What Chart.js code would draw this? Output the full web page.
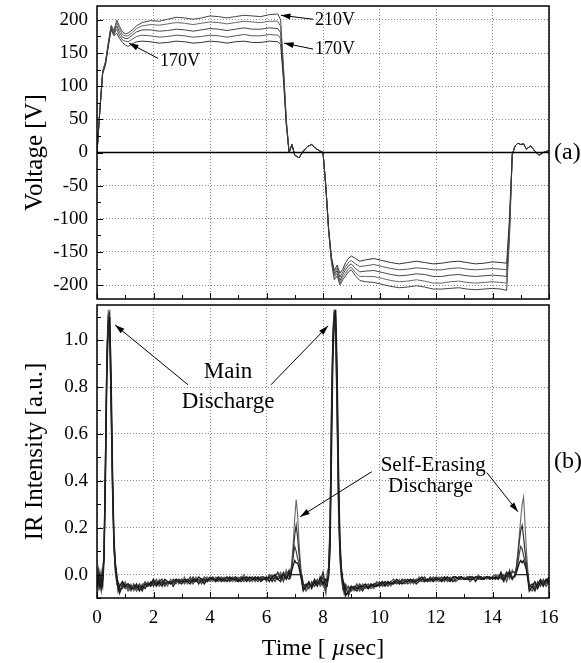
<!DOCTYPE html>
<html>
<head>
<meta charset="utf-8">
<script src="https://cdn.jsdelivr.net/npm/chart.js@4.4.1/dist/chart.umd.min.js"></script>
<style>
  html, body { margin: 0; padding: 0; background: #fff; }
  #wrap { position: relative; width: 581px; height: 663px; }
  #top { position: absolute; left: 0; top: 0; }
  #bot { position: absolute; left: 0; top: 299px; }
</style>
</head>
<body>
<div id="wrap">
  <canvas id="top" width="581" height="305"></canvas>
  <canvas id="bot" width="581" height="364"></canvas>
</div>
<script>
// ---- tick positions ----
const timeTicks = [0, 2, 4, 6, 8, 10, 12, 14, 16];
const timeMinor = [0, 1, 2, 3, 4, 5, 6, 7, 8, 9, 10, 11, 12, 13, 14, 15, 16];
const voltTicks = [-200, -150, -100, -50, 0, 50, 100, 150, 200];
const voltMinor = [-200, -175, -150, -125, -100, -75, -50, -25, 0, 25, 50, 75, 100, 125, 150, 175, 200];
const irTicks = [0, 0.2, 0.4, 0.6, 0.8, 1.0];
const irMinor = [-0.1, 0, 0.1, 0.2, 0.3, 0.4, 0.5, 0.6, 0.7, 0.8, 0.9, 1.0, 1.1];

// ---- (a) drive voltage, µs, one row per block of samples ----
const voltTime = [
  [0, 0.1, 0.2, 0.3, 0.4, 0.5, 0.6, 0.7, 0.8, 0.9],
  [1.0, 1.1, 1.25, 1.4, 1.6, 1.9, 2.2, 2.5, 2.8, 3.1],
  [3.4, 3.7, 4.0, 4.3, 4.6, 4.9, 5.2, 5.5, 5.8, 6.1],
  [6.4, 6.5, 6.6, 6.7, 6.8, 6.9, 7.0, 7.15, 7.3, 7.45],
  [7.6, 7.75, 7.9, 8.0, 8.1, 8.2, 8.3, 8.4, 8.5, 8.6],
  [8.7, 8.8, 8.9, 9.0, 9.15, 9.3, 9.5, 9.8, 10.1, 10.4],
  [10.7, 11.0, 11.3, 11.6, 11.9, 12.2, 12.5, 12.8, 13.1, 13.4],
  [13.7, 14.0, 14.3, 14.5, 14.6, 14.7, 14.8, 14.9, 15.0, 15.1],
  [15.2, 15.35, 15.5, 15.65, 15.8, 16.0]
];
const v170 = [
  [0, 62, 118, 132, 160, 185, 176, 180, 172, 166],
  [162, 160, 164, 167, 168, 167, 165, 166, 168, 167],
  [165, 166, 168, 167, 165, 167, 168, 166, 166, 168],
  [167, 163, 110, 42, 0, 12, -4, -8, 2, 9],
  [12, 6, 2, 0, -50, -115, -158, -178, -170, -182],
  [-176, -166, -160, -156, -160, -164, -162, -160, -163, -166],
  [-168, -166, -164, -166, -168, -167, -165, -164, -166, -168],
  [-167, -165, -166, -167, -100, -3, 10, 14, 12, 13],
  [5, 10, 2, -4, 0, 3]
];
const v180 = [
  [0, 62, 120, 134, 162, 187, 178, 186, 176, 170],
  [168, 167, 171, 175, 177, 176, 174, 175, 177, 176],
  [174, 175, 177, 176, 174, 176, 178, 176, 176, 178],
  [177, 172, 115, 44, 0, 12, -4, -8, 2, 9],
  [12, 6, 2, 0, -50, -116, -160, -182, -174, -188],
  [-180, -172, -166, -163, -168, -172, -171, -169, -172, -175],
  [-177, -176, -174, -175, -177, -177, -175, -174, -176, -177],
  [-176, -175, -176, -177, -108, -3, 10, 14, 12, 13],
  [5, 10, 2, -4, 0, 3]
];
const v190 = [
  [0, 63, 121, 135, 163, 189, 180, 191, 181, 174],
  [172, 172, 177, 182, 185, 185, 183, 184, 186, 185],
  [183, 185, 187, 186, 184, 186, 188, 186, 186, 188],
  [187, 181, 120, 46, 0, 12, -4, -8, 2, 9],
  [12, 6, 2, 0, -51, -117, -162, -185, -178, -193],
  [-184, -177, -171, -168, -175, -180, -179, -178, -181, -184],
  [-186, -185, -183, -184, -187, -187, -185, -184, -186, -187],
  [-186, -185, -186, -187, -115, -3, 10, 14, 12, 13],
  [5, 10, 2, -4, 0, 3]
];
const v200 = [
  [0, 63, 122, 136, 164, 190, 182, 196, 186, 178],
  [176, 176, 181, 187, 191, 193, 192, 194, 196, 195],
  [193, 195, 197, 196, 194, 196, 198, 197, 196, 198],
  [198, 190, 125, 48, 0, 12, -4, -8, 2, 9],
  [12, 6, 2, 0, -51, -118, -164, -188, -182, -197],
  [-188, -182, -176, -173, -181, -187, -187, -187, -190, -193],
  [-195, -194, -192, -194, -197, -197, -195, -194, -196, -197],
  [-196, -195, -196, -197, -122, -3, 10, 14, 12, 13],
  [5, 10, 2, -4, 0, 3]
];
const v210 = [
  [0, 64, 123, 137, 166, 192, 184, 200, 190, 182],
  [179, 180, 185, 191, 196, 199, 198, 201, 204, 203],
  [201, 203, 206, 205, 203, 205, 207, 206, 205, 208],
  [209, 200, 130, 50, 0, 12, -4, -8, 2, 9],
  [12, 6, 2, 0, -52, -119, -166, -192, -186, -200],
  [-192, -186, -180, -177, -186, -193, -195, -196, -199, -202],
  [-204, -203, -201, -203, -206, -206, -205, -204, -206, -207],
  [-206, -205, -206, -208, -130, -3, 10, 14, 12, 13],
  [5, 10, 2, -4, 0, 3]
];
const zeroTime = [[0, 16]];
const zeroVolt = [[0, 0]];

// ---- (b) IR intensity ----
const irTime = [
  [0, 0.05, 0.1, 0.15, 0.2, 0.25, 0.3, 0.35, 0.4, 0.45, 0.5, 0.55, 0.6, 0.65, 0.7, 0.75, 0.8],
  [0.9, 1.0, 1.1, 1.2, 1.3, 1.4, 1.5, 1.6, 1.7, 1.8],
  [1.9, 2.0, 2.1, 2.2, 2.3, 2.4, 2.5, 2.6, 2.7, 2.8],
  [2.9, 3.0, 3.1, 3.2, 3.3, 3.4, 3.5, 3.6, 3.7, 3.8],
  [3.9, 4.0, 4.1, 4.2, 4.3, 4.4, 4.5, 4.6, 4.7, 4.8],
  [4.9, 5.0, 5.1, 5.2, 5.3, 5.4, 5.5, 5.6, 5.7, 5.8],
  [5.9, 6.0, 6.1, 6.2, 6.3, 6.4, 6.5, 6.6, 6.7, 6.8],
  [6.85, 6.9, 6.95, 7.0, 7.05, 7.1, 7.15, 7.2, 7.25, 7.3],
  [7.4, 7.5, 7.6, 7.7, 7.8, 7.9, 8.0, 8.1],
  [8.15, 8.2, 8.25, 8.3, 8.35, 8.4, 8.45, 8.5, 8.55, 8.6, 8.65, 8.7, 8.75, 8.8],
  [8.9, 9.0, 9.1, 9.2, 9.3, 9.4, 9.5, 9.6, 9.7, 9.8],
  [9.9, 10.0, 10.1, 10.2, 10.3, 10.4, 10.5, 10.6, 10.7, 10.8],
  [10.9, 11.0, 11.1, 11.2, 11.3, 11.4, 11.5, 11.6, 11.7, 11.8],
  [11.9, 12.0, 12.1, 12.2, 12.3, 12.4, 12.5, 12.6, 12.7, 12.8],
  [12.9, 13.0, 13.1, 13.2, 13.3, 13.4, 13.5, 13.6, 13.7, 13.8],
  [13.9, 14.0, 14.1, 14.2, 14.3, 14.4, 14.5, 14.6, 14.7],
  [14.8, 14.85, 14.9, 14.95, 15.0, 15.05, 15.1, 15.15, 15.2, 15.25, 15.3],
  [15.4, 15.5, 15.6, 15.7, 15.8, 15.9, 16.0]
];
const ir210 = [
  [-0.03, -0.06, 0.01, -0.04, -0.02, 0.12, 0.52, 0.96, 1.13, 1.02, 0.68, 0.33, 0.10, 0.02, -0.03, -0.06, -0.04],
  [-0.05, -0.03, -0.06, -0.04, -0.07, -0.05, -0.06, -0.04, -0.05, -0.03],
  [-0.05, -0.03, -0.04, -0.02, -0.04, -0.03, -0.05, -0.02, -0.03, -0.04],
  [-0.02, -0.03, -0.01, -0.04, -0.02, -0.03, -0.01, -0.03, -0.02, -0.03],
  [-0.01, -0.02, -0.03, -0.01, -0.02, -0.03, -0.01, -0.02, -0.01, -0.03],
  [-0.02, -0.01, -0.02, 0.00, -0.02, -0.01, -0.03, -0.01, -0.02, -0.01],
  [-0.02, -0.01, -0.02, 0.00, -0.02, -0.01, 0.01, -0.02, 0.02, -0.01],
  [0.00, 0.06, 0.14, 0.24, 0.32, 0.26, 0.14, 0.05, -0.02, -0.05],
  [-0.06, -0.04, -0.05, -0.03, -0.04, -0.02, -0.05, -0.03],
  [-0.02, 0.02, 0.25, 0.75, 1.05, 1.13, 1.00, 0.62, 0.25, 0.06, -0.02, -0.05, -0.07, -0.04],
  [-0.06, -0.05, -0.07, -0.05, -0.06, -0.04, -0.06, -0.05, -0.04, -0.06],
  [-0.04, -0.05, -0.03, -0.04, -0.03, -0.05, -0.03, -0.04, -0.02, -0.04],
  [-0.03, -0.02, -0.04, -0.02, -0.03, -0.01, -0.03, -0.03, -0.02, -0.03],
  [-0.02, -0.03, -0.01, -0.03, -0.02, -0.02, -0.01, -0.03, -0.02, -0.01],
  [-0.02, -0.01, -0.02, -0.02, -0.01, -0.02, 0.00, -0.02, -0.01, -0.02],
  [-0.01, -0.02, -0.01, 0.00, -0.02, -0.01, 0.01, -0.02, 0.02],
  [0.00, 0.04, 0.10, 0.17, 0.24, 0.30, 0.33, 0.22, 0.10, 0.02, -0.04],
  [-0.06, -0.04, -0.05, -0.03, -0.04, -0.02, -0.03]
];
const ir200 = [
  [-0.05, 0.02, -0.03, -0.07, 0.00, 0.08, 0.45, 0.90, 1.10, 1.12, 0.80, 0.40, 0.14, 0.04, -0.01, -0.05, -0.07],
  [-0.04, -0.06, -0.05, -0.07, -0.04, -0.06, -0.04, -0.06, -0.04, -0.05],
  [-0.03, -0.05, -0.03, -0.04, -0.03, -0.05, -0.03, -0.04, -0.02, -0.03],
  [-0.03, -0.02, -0.04, -0.02, -0.03, -0.01, -0.03, -0.02, -0.04, -0.02],
  [-0.03, -0.01, -0.02, -0.03, -0.01, -0.02, -0.03, -0.01, -0.02, -0.02],
  [-0.01, -0.03, -0.01, -0.02, -0.01, -0.02, -0.01, -0.02, -0.03, -0.01],
  [-0.01, -0.02, -0.01, -0.02, -0.01, 0.01, -0.02, 0.01, -0.01, 0.02],
  [0.00, 0.04, 0.10, 0.17, 0.21, 0.16, 0.09, 0.03, -0.03, -0.06],
  [-0.04, -0.06, -0.03, -0.05, -0.03, -0.04, -0.01, -0.06],
  [-0.04, 0.00, 0.15, 0.60, 0.98, 1.12, 1.10, 0.80, 0.38, 0.12, 0.01, -0.03, -0.06, -0.08],
  [-0.08, -0.06, -0.05, -0.06, -0.04, -0.06, -0.05, -0.06, -0.05, -0.04],
  [-0.05, -0.03, -0.05, -0.04, -0.04, -0.03, -0.04, -0.03, -0.04, -0.03],
  [-0.02, -0.04, -0.03, -0.03, -0.02, -0.03, -0.02, -0.01, -0.03, -0.02],
  [-0.03, -0.02, -0.02, -0.01, -0.03, -0.01, -0.02, -0.02, -0.01, -0.02],
  [-0.01, -0.02, -0.01, -0.01, -0.02, -0.01, -0.02, -0.01, -0.02, -0.01],
  [-0.02, -0.01, -0.02, -0.01, 0.00, -0.02, 0.00, -0.01, 0.01],
  [0.01, 0.03, 0.08, 0.14, 0.19, 0.21, 0.16, 0.10, 0.05, -0.01, -0.05],
  [-0.04, -0.06, -0.03, -0.05, -0.02, -0.04, -0.02]
];
const ir190 = [
  [-0.02, -0.04, -0.06, 0.01, -0.03, 0.10, 0.50, 0.93, 1.11, 1.06, 0.74, 0.36, 0.12, 0.01, -0.04, -0.03, -0.06],
  [-0.06, -0.04, -0.07, -0.05, -0.05, -0.07, -0.05, -0.05, -0.03, -0.05],
  [-0.04, -0.04, -0.02, -0.05, -0.03, -0.03, -0.04, -0.03, -0.04, -0.02],
  [-0.04, -0.02, -0.03, -0.03, -0.01, -0.04, -0.02, -0.02, -0.03, -0.01],
  [-0.02, -0.03, -0.02, -0.02, -0.03, -0.01, -0.02, -0.03, -0.02, -0.01],
  [-0.03, -0.02, -0.01, -0.03, -0.02, -0.02, -0.01, -0.03, -0.01, -0.02],
  [-0.01, -0.03, 0.00, -0.01, -0.03, -0.01, 0.00, -0.03, 0.01, 0.00],
  [0.01, 0.03, 0.08, 0.12, 0.10, 0.07, 0.05, 0.02, -0.02, -0.04],
  [-0.07, -0.05, -0.04, -0.04, -0.02, -0.05, -0.03, -0.08],
  [0.01, 0.03, 0.20, 0.68, 1.02, 1.12, 1.05, 0.70, 0.30, 0.08, 0.00, -0.06, -0.04, -0.07],
  [-0.05, -0.07, -0.06, -0.04, -0.07, -0.05, -0.05, -0.04, -0.06, -0.05],
  [-0.03, -0.04, -0.04, -0.03, -0.05, -0.03, -0.02, -0.04, -0.03, -0.03],
  [-0.04, -0.03, -0.02, -0.04, -0.02, -0.02, -0.03, -0.02, -0.02, -0.03],
  [-0.01, -0.02, -0.03, -0.02, -0.01, -0.03, -0.02, -0.01, -0.03, -0.02],
  [-0.02, -0.02, -0.01, -0.03, -0.02, -0.01, -0.02, -0.02, -0.01, -0.01],
  [-0.02, -0.01, 0.00, -0.02, -0.01, 0.00, -0.03, 0.02, -0.01],
  [-0.01, 0.02, 0.05, 0.09, 0.12, 0.11, 0.08, 0.06, 0.03, 0.00, -0.06],
  [-0.07, -0.05, -0.04, -0.04, -0.03, -0.05, -0.03]
];
const ir180 = [
  [-0.04, -0.01, -0.05, -0.02, -0.05, 0.06, 0.40, 0.85, 1.06, 1.10, 0.85, 0.45, 0.16, 0.05, 0.00, -0.07, -0.05],
  [-0.03, -0.05, -0.04, -0.06, -0.06, -0.04, -0.07, -0.05, -0.06, -0.04],
  [-0.04, -0.02, -0.05, -0.03, -0.05, -0.02, -0.03, -0.04, -0.03, -0.02],
  [-0.03, -0.04, -0.02, -0.03, -0.04, -0.02, -0.03, -0.01, -0.02, -0.04],
  [-0.02, -0.02, -0.01, -0.03, -0.02, -0.02, -0.02, -0.03, -0.01, -0.02],
  [-0.02, -0.03, -0.02, -0.01, -0.03, -0.01, -0.02, -0.02, -0.01, -0.03],
  [-0.02, -0.01, -0.03, -0.01, 0.00, -0.02, -0.01, 0.00, -0.02, 0.01],
  [-0.01, 0.02, 0.04, 0.06, 0.05, 0.05, 0.03, 0.00, -0.03, -0.07],
  [-0.05, -0.03, -0.06, -0.03, -0.05, -0.01, -0.04, -0.02],
  [-0.03, -0.01, 0.10, 0.50, 0.92, 1.08, 1.13, 0.88, 0.45, 0.15, 0.03, -0.02, -0.05, -0.09],
  [-0.07, -0.05, -0.06, -0.07, -0.05, -0.05, -0.04, -0.06, -0.04, -0.05],
  [-0.05, -0.04, -0.03, -0.05, -0.03, -0.04, -0.04, -0.02, -0.03, -0.04],
  [-0.03, -0.03, -0.02, -0.03, -0.03, -0.02, -0.01, -0.03, -0.02, -0.02],
  [-0.02, -0.02, -0.02, -0.03, -0.01, -0.02, -0.03, -0.01, -0.01, -0.02],
  [-0.01, -0.02, -0.02, -0.01, -0.01, -0.03, -0.01, -0.01, -0.02, -0.01],
  [-0.01, -0.02, -0.01, -0.02, 0.01, -0.02, -0.01, 0.01, -0.02],
  [0.00, 0.01, 0.03, 0.05, 0.06, 0.05, 0.06, 0.04, 0.02, -0.02, -0.07],
  [-0.05, -0.03, -0.06, -0.03, -0.05, -0.02, -0.04]
];
const ir170 = [
  [-0.06, -0.03, 0.00, -0.05, -0.01, 0.09, 0.48, 0.92, 1.08, 1.04, 0.72, 0.38, 0.13, 0.03, -0.02, -0.04, -0.08],
  [-0.05, -0.05, -0.04, -0.05, -0.06, -0.05, -0.05, -0.07, -0.04, -0.04],
  [-0.05, -0.03, -0.04, -0.03, -0.02, -0.04, -0.03, -0.03, -0.05, -0.03],
  [-0.02, -0.03, -0.03, -0.02, -0.03, -0.03, -0.02, -0.04, -0.02, -0.02],
  [-0.03, -0.02, -0.02, -0.02, -0.01, -0.03, -0.02, -0.01, -0.03, -0.02],
  [-0.01, -0.02, -0.03, -0.02, -0.01, -0.03, -0.02, -0.01, -0.02, -0.02],
  [-0.02, -0.02, -0.01, -0.03, -0.01, -0.02, -0.03, 0.00, -0.01, -0.02],
  [0.00, 0.00, 0.00, 0.00, 0.00, 0.00, 0.00, 0.00, 0.00, -0.04],
  [-0.05, -0.04, -0.05, -0.02, -0.04, -0.03, 0.01, -0.05],
  [-0.05, 0.01, 0.18, 0.65, 1.00, 1.10, 1.04, 0.72, 0.32, 0.10, 0.02, -0.04, -0.08, -0.05],
  [-0.09, -0.06, -0.05, -0.06, -0.05, -0.07, -0.05, -0.05, -0.05, -0.04],
  [-0.04, -0.05, -0.04, -0.03, -0.04, -0.04, -0.03, -0.03, -0.04, -0.02],
  [-0.03, -0.02, -0.03, -0.02, -0.04, -0.03, -0.02, -0.02, -0.03, -0.01],
  [-0.03, -0.01, -0.02, -0.02, -0.02, -0.01, -0.02, -0.03, -0.02, -0.01],
  [-0.01, -0.02, -0.02, -0.02, -0.02, -0.01, -0.01, -0.02, -0.02, -0.01],
  [-0.02, -0.01, -0.02, -0.01, -0.01, -0.03, 0.01, 0.00, -0.02],
  [0.00, 0.00, 0.00, 0.00, 0.00, 0.00, 0.00, 0.00, 0.00, 0.00, -0.05],
  [-0.05, -0.07, -0.04, -0.02, -0.04, -0.03, -0.01]
];

const FONT = "'Liberation Serif', 'Times New Roman', serif";

// pair the time rows with the value rows
function zipRows(tRows, yRows) {
  const pts = [];
  tRows.forEach((row, i) => row.forEach((t, j) => pts.push({ x: t, y: yRows[i][j] })));
  return pts;
}

function trace(tRows, yRows, color, width) {
  return { data: zipRows(tRows, yRows), borderColor: color, borderWidth: width || 1, pointRadius: 0, tension: 0, fill: false };
}

function drawArrow(ctx, x1, y1, x2, y2) {
  const ang = Math.atan2(y2 - y1, x2 - x1);
  ctx.beginPath();
  ctx.moveTo(x1, y1);
  ctx.lineTo(x2, y2);
  ctx.stroke();
  ctx.beginPath();
  ctx.moveTo(x2, y2);
  ctx.lineTo(x2 - 10 * Math.cos(ang - 0.3), y2 - 10 * Math.sin(ang - 0.3));
  ctx.lineTo(x2 - 10 * Math.cos(ang + 0.3), y2 - 10 * Math.sin(ang + 0.3));
  ctx.closePath();
  ctx.fill();
}

// frame around the plot plus inward tick marks
const frameTicks = {
  id: 'frameTicks',
  afterDraw(chart, args, opts) {
    const { ctx, chartArea: a } = chart;
    const sx = chart.scales.x, sy = chart.scales.y;
    ctx.save();
    ctx.strokeStyle = '#000';
    ctx.lineWidth = 1;
    ctx.beginPath();
    timeMinor.forEach(v => {
      const px = Math.round(sx.getPixelForValue(v)) + 0.5;
      const len = timeTicks.includes(v) ? 6 : 4;
      ctx.moveTo(px, a.bottom);
      ctx.lineTo(px, a.bottom - len);
    });
    opts.yMinor.forEach(v => {
      const py = Math.round(sy.getPixelForValue(v)) + 0.5;
      const len = opts.yMajor.includes(v) ? 6 : 4;
      ctx.moveTo(a.left, py);
      ctx.lineTo(a.left + len, py);
    });
    ctx.stroke();
    ctx.lineWidth = 1.5;
    ctx.strokeRect(a.left, a.top, a.right - a.left, a.bottom - a.top);
    ctx.restore();
  }
};

// annotation texts and arrows, placed in data coordinates
const notes = {
  id: 'notes',
  afterDraw(chart, args, opts) {
    const { ctx, chartArea: a } = chart;
    const sx = chart.scales.x, sy = chart.scales.y;
    ctx.save();
    ctx.fillStyle = '#000';
    ctx.strokeStyle = '#000';
    ctx.lineWidth = 1;
    ctx.textBaseline = 'middle';
    opts.texts.forEach(t => {
      ctx.font = t.size + 'px ' + FONT;
      ctx.textAlign = t.align;
      ctx.fillText(t.text, sx.getPixelForValue(t.x), sy.getPixelForValue(t.y));
    });
    opts.arrows.forEach(r => {
      drawArrow(ctx, sx.getPixelForValue(r.from[0]), sy.getPixelForValue(r.from[1]),
        sx.getPixelForValue(r.to[0]), sy.getPixelForValue(r.to[1]));
    });
    ctx.font = '24px ' + FONT;
    ctx.textAlign = 'left';
    ctx.fillText(opts.side, a.right + 5, sy.getPixelForValue(opts.sideY));
    if (opts.xTitle) {
      // "Time [ µsec]" with an italic µ
      const parts = [['Time [ ', 'normal'], ['\u00b5', 'italic'], ['sec]', 'normal']];
      let w = 0;
      parts.forEach(p => { ctx.font = p[1] + ' 24px ' + FONT; w += ctx.measureText(p[0]).width; });
      let x = (a.left + a.right) / 2 - w / 2;
      const y = a.bottom + 57;
      ctx.textBaseline = 'alphabetic';
      parts.forEach(p => {
        ctx.font = p[1] + ' 24px ' + FONT;
        ctx.fillText(p[0], x, y);
        x += ctx.measureText(p[0]).width;
      });
    }
    ctx.restore();
  }
};

const gridOpts = { color: '#8a8a8a', lineWidth: 1, drawTicks: false };
const borderOpts = { display: false, dash: [1, 2] };

new Chart(document.getElementById('top'), {
  type: 'line',
  data: {
    datasets: [
      trace(zeroTime, zeroVolt, '#000', 1.3),
      trace(voltTime, v170, '#333'),
      trace(voltTime, v180, '#555'),
      trace(voltTime, v190, '#444'),
      trace(voltTime, v200, '#666'),
      trace(voltTime, v210, '#444')
    ]
  },
  options: {
    responsive: false,
    animation: false,
    layout: { padding: { top: 6, right: 32, bottom: 6, left: 0 } },
    plugins: {
      legend: { display: false },
      tooltip: { enabled: false },
      frameTicks: { yMajor: voltTicks, yMinor: voltMinor },
      notes: {
        texts: [
          { text: '210V', x: 7.72, y: 200, size: 18, align: 'left' },
          { text: '170V', x: 7.72, y: 155, size: 18, align: 'left' },
          { text: '170V', x: 2.23, y: 137, size: 18, align: 'left' }
        ],
        arrows: [
          { from: [7.65, 201], to: [6.51, 207] },
          { from: [7.65, 156], to: [6.62, 165] },
          { from: [2.16, 142], to: [1.13, 165] }
        ],
        side: '(a)', sideY: 0
      }
    },
    scales: {
      x: {
        type: 'linear', min: 0, max: 16,
        afterBuildTicks: s => { s.ticks = timeTicks.map(v => ({ value: v })); },
        ticks: { display: false },
        grid: gridOpts, border: borderOpts,
        afterFit: s => { s.height = 0; }
      },
      y: {
        min: -221, max: 221,
        afterBuildTicks: s => { s.ticks = voltTicks.map(v => ({ value: v })); },
        ticks: { font: { family: FONT, size: 19 }, color: '#000', padding: 9 },
        grid: gridOpts, border: borderOpts,
        title: { display: true, text: 'Voltage [V]', color: '#000', font: { family: FONT, size: 25 }, padding: { top: 20, bottom: 0 } },
        afterFit: s => { s.width = 97; s.paddingTop = 0; s.paddingBottom = 0; }
      }
    }
  },
  plugins: [frameTicks, notes]
});

new Chart(document.getElementById('bot'), {
  type: 'line',
  data: {
    datasets: [
      trace(irTime, ir170, '#222', 1.3),
      trace(irTime, ir180, '#111', 1.3),
      trace(irTime, ir190, '#444', 1.2),
      trace(irTime, ir200, '#333', 1.2),
      trace(irTime, ir210, '#666', 1.1)
    ]
  },
  options: {
    responsive: false,
    animation: false,
    layout: { padding: { top: 6, right: 32, bottom: 0, left: 0 } },
    plugins: {
      legend: { display: false },
      tooltip: { enabled: false },
      frameTicks: { yMajor: irTicks, yMinor: irMinor },
      notes: {
        texts: [
          { text: 'Main', x: 4.64, y: 0.865, size: 23, align: 'center' },
          { text: 'Discharge', x: 4.64, y: 0.737, size: 23, align: 'center' },
          { text: 'Self-Erasing', x: 11.9, y: 0.464, size: 21, align: 'center' },
          { text: 'Discharge', x: 11.8, y: 0.375, size: 21, align: 'center' }
        ],
        arrows: [
          { from: [3.22, 0.81], to: [0.64, 1.065] },
          { from: [6.16, 0.81], to: [8.18, 1.061] },
          { from: [9.73, 0.439], to: [7.19, 0.247] },
          { from: [13.8, 0.435], to: [14.9, 0.268] }
        ],
        side: '(b)', sideY: 0.48,
        xTitle: true
      }
    },
    scales: {
      x: {
        type: 'linear', min: 0, max: 16,
        afterBuildTicks: s => { s.ticks = timeTicks.map(v => ({ value: v })); },
        ticks: { font: { family: FONT, size: 19 }, color: '#000', padding: 9, maxRotation: 0 },
        grid: gridOpts, border: borderOpts,
        afterFit: s => { s.height = 65; s.paddingLeft = 0; s.paddingRight = 0; }
      },
      y: {
        min: -0.1, max: 1.15,
        afterBuildTicks: s => { s.ticks = irTicks.map(v => ({ value: v })); },
        ticks: { font: { family: FONT, size: 19 }, color: '#000', padding: 9, callback: v => v.toFixed(1) },
        grid: gridOpts, border: borderOpts,
        title: { display: true, text: 'IR Intensity [a.u.]', color: '#000', font: { family: FONT, size: 25 }, padding: { top: 20, bottom: 0 } },
        afterFit: s => { s.width = 97; s.paddingTop = 0; s.paddingBottom = 0; }
      }
    }
  },
  plugins: [frameTicks, notes]
});
</script>
</body>
</html>
